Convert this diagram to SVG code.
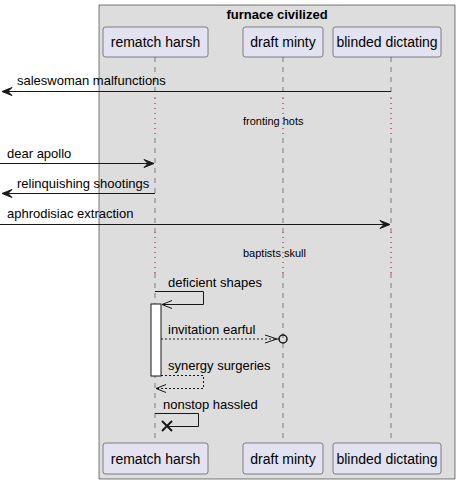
<svg xmlns="http://www.w3.org/2000/svg" width="459" height="485" viewBox="0 0 459 485">
<defs>
<style>
text{font-family:"Liberation Sans",Arial,sans-serif;fill:#000}
.msg{font-size:13px}
.dl{font-size:11px}
.pt{font-size:14px}
.part{fill:#E2E2F0;stroke:#181818;stroke-width:0.5}
.life{stroke:#181818;stroke-width:0.5;stroke-dasharray:5,5;fill:none}
.delay{stroke:#A80036;stroke-width:1;stroke-dasharray:1,4;fill:none}
.line{stroke:#181818;stroke-width:1;fill:none}
.dash{stroke:#181818;stroke-width:1;stroke-dasharray:2,2;fill:none}
.ah{fill:#181818;stroke:#181818;stroke-width:1}
</style>
</defs>
<rect x="99" y="5" width="356" height="474" fill="#DDDDDD" stroke="#000" stroke-width="0.5"/>
<text x="277" y="19" text-anchor="middle" style="font-size:13px;font-weight:bold">furnace civilized</text>
<g id="lifelines">
<path class="life" d="M155,57V98M155,138V232M155,273V443"/>
<path class="life" d="M283,57V98M283,138V232M283,273V443"/>
<path class="life" d="M391,57V98M391,138V232M391,273V443"/>
<path class="delay" d="M155,98V138M283,98V138M391,98V138M155,232V273M283,232V273M391,232V273"/>
</g>
<g id="p-rematch-top"><rect class="part" x="103" y="27" width="105" height="30" rx="2.5"/><text class="pt" x="155.5" y="47" text-anchor="middle">rematch harsh</text></g>
<g id="p-draft-top"><rect class="part" x="243" y="27" width="80" height="30" rx="2.5"/><text class="pt" x="283" y="47" text-anchor="middle">draft minty</text></g>
<g id="p-blinded-top"><rect class="part" x="333" y="27" width="108" height="30" rx="2.5"/><text class="pt" x="387" y="47" text-anchor="middle">blinded dictating</text></g>
<g id="p-rematch-bot"><rect class="part" x="103" y="443" width="105" height="31" rx="2.5"/><text class="pt" x="155.5" y="464" text-anchor="middle">rematch harsh</text></g>
<g id="p-draft-bot"><rect class="part" x="243" y="443" width="80" height="31" rx="2.5"/><text class="pt" x="283" y="464" text-anchor="middle">draft minty</text></g>
<g id="p-blinded-bot"><rect class="part" x="333" y="443" width="108" height="31" rx="2.5"/><text class="pt" x="387" y="464" text-anchor="middle">blinded dictating</text></g>
<g id="activation"><rect x="151" y="304" width="10" height="72" fill="#FFFFFF" stroke="#181818" stroke-width="1"/></g>
<g id="connectors">
<path class="line" d="M391,91.5H3"/>
<polygon class="ah" points="2,91.5 12,87.5 8,91.5 12,95.5"/>
<text class="msg" x="17" y="85">saleswoman malfunctions</text>
<text class="dl" x="243" y="125">fronting hots</text>
<path class="line" d="M0,163.5H153"/>
<polygon class="ah" points="154,163.5 144,159.5 148,163.5 144,167.5"/>
<text class="msg" x="7" y="158">dear apollo</text>
<path class="line" d="M155,193.5H3"/>
<polygon class="ah" points="2,193.5 12,189.5 8,193.5 12,197.5"/>
<text class="msg" x="17" y="188">relinquishing shootings</text>
<path class="line" d="M0,224.5H389"/>
<polygon class="ah" points="390,224.5 380,220.5 384,224.5 380,228.5"/>
<text class="msg" x="7" y="218">aphrodisiac extraction</text>
<text class="dl" x="243" y="257">baptists skull</text>
<path class="line" d="M155,291.5H203.5V304.5H162"/>
<path class="line" d="M172,300.5L162,304.5L172,308.5"/>
<text class="msg" x="168" y="287">deficient shapes</text>
<path class="dash" d="M161,339H279"/>
<path class="line" d="M265,335L277,339L265,343"/>
<circle cx="283" cy="339" r="4" fill="none" stroke="#181818" stroke-width="1.5"/>
<text class="msg" x="168" y="334">invitation earful</text>
<path class="dash" d="M161,375.5H203.5V388.5H156"/>
<path class="line" d="M166,384.5L156,388.5L166,392.5"/>
<text class="msg" x="168" y="370">synergy surgeries</text>
<path class="line" d="M155,413.5H198.5V426.5H167"/>
<path d="M162,421L172,431M162,431L172,421" stroke="#181818" stroke-width="2"/>
<text class="msg" x="163" y="409">nonstop hassled</text>
</g>
</svg>
